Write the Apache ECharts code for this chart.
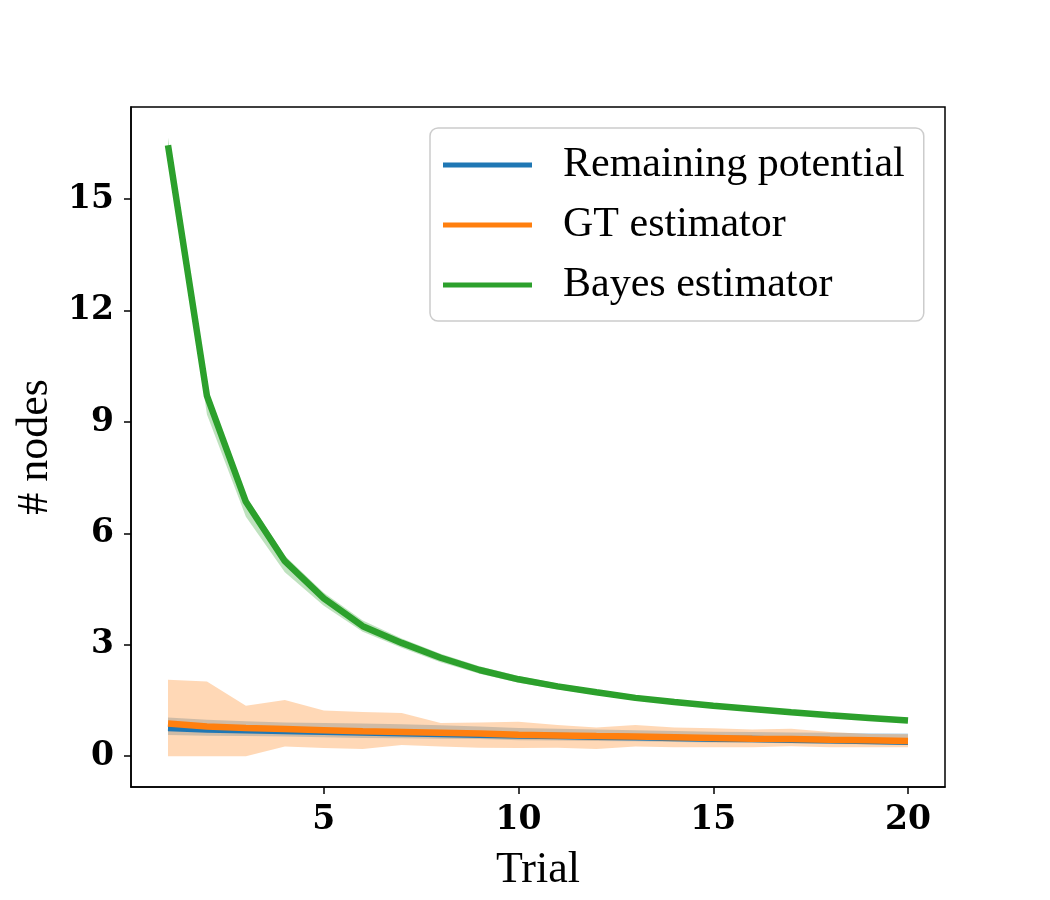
<!DOCTYPE html>
<html>
<head>
<meta charset="utf-8">
<script src="https://cdn.jsdelivr.net/npm/echarts@6/dist/echarts.min.js"></script>
<style>
  html, body { margin: 0; padding: 0; background: #fff; }
  #chart { width: 1050px; height: 900px; }
</style>
</head>
<body>
<div id="chart"></div>
<script>
// trial index
var trials = [1, 2, 3, 4, 5, 6, 7, 8, 9, 10, 11, 12, 13, 14, 15, 16, 17, 18, 19, 20];

// Remaining potential (mean + band)
var remMean  = [0.76, 0.72, 0.70, 0.68, 0.66, 0.64, 0.62, 0.60, 0.58, 0.56, 0.54, 0.52, 0.51, 0.49, 0.47, 0.46, 0.44, 0.43, 0.41, 0.39];
var remLower = [0.57, 0.55, 0.54, 0.53, 0.51, 0.49, 0.48, 0.47, 0.46, 0.43, 0.42, 0.41, 0.40, 0.38, 0.37, 0.36, 0.35, 0.33, 0.32, 0.31];
var remUpper = [1.04, 0.98, 0.94, 0.91, 0.89, 0.88, 0.86, 0.83, 0.80, 0.76, 0.74, 0.72, 0.70, 0.68, 0.66, 0.65, 0.64, 0.63, 0.62, 0.61];

// GT estimator
var gtMean  = [0.88, 0.80, 0.76, 0.73, 0.70, 0.67, 0.65, 0.63, 0.61, 0.58, 0.56, 0.54, 0.53, 0.51, 0.49, 0.47, 0.46, 0.44, 0.43, 0.41];
var gtLower = [0.00, 0.00, 0.00, 0.26, 0.22, 0.19, 0.30, 0.26, 0.23, 0.22, 0.23, 0.19, 0.26, 0.24, 0.24, 0.24, 0.27, 0.24, 0.24, 0.24];
var gtUpper = [2.06, 2.01, 1.36, 1.51, 1.23, 1.19, 1.16, 0.89, 0.91, 0.93, 0.84, 0.77, 0.84, 0.77, 0.75, 0.72, 0.74, 0.65, 0.60, 0.59];

// Bayes estimator
var bayesMean  = [16.45, 9.70, 6.85, 5.25, 4.25, 3.50, 3.05, 2.65, 2.32, 2.07, 1.88, 1.72, 1.57, 1.46, 1.36, 1.27, 1.18, 1.10, 1.03, 0.96];
var bayesLower = [16.30, 9.20, 6.45, 4.95, 4.05, 3.35, 2.92, 2.53, 2.22, 1.98, 1.80, 1.65, 1.51, 1.40, 1.30, 1.22, 1.13, 1.05, 0.98, 0.91];
var bayesUpper = [16.65, 9.85, 7.00, 5.40, 4.40, 3.65, 3.17, 2.76, 2.42, 2.16, 1.96, 1.79, 1.64, 1.52, 1.42, 1.32, 1.23, 1.15, 1.08, 1.01];

var xTicks = [5, 10, 15, 20];
var yTicks = [0, 3, 6, 9, 12, 15];

var names = ['Remaining potential', 'GT estimator', 'Bayes estimator'];
var colors = ['#1f77b4', '#ff7f0e', '#2ca02c'];

var chart = echarts.init(document.getElementById('chart'));

function pairs(ys) {
    var res = [];
    for (var i = 0; i < trials.length; i++) res.push([trials[i], ys[i]]);
    return res;
}

// shaded band between lower and upper, drawn as one polygon through the axes
function band(key, lo, up, color) {
    return {
        name: key + '_band', type: 'custom', silent: true, clip: true, z: 1,
        data: pairs(up),
        encode: { x: 0, y: 1 },
        renderItem: function (params, api) {
            if (params.dataIndex !== 0) return;
            var pts = [];
            for (var i = 0; i < trials.length; i++) pts.push(api.coord([trials[i], up[i]]));
            for (var j = trials.length - 1; j >= 0; j--) pts.push(api.coord([trials[j], lo[j]]));
            return {
                type: 'polygon',
                shape: { points: pts },
                style: { fill: color, opacity: 0.3 }
            };
        }
    };
}

function meanLine(name, ys, color) {
    return {
        name: name, type: 'line', data: pairs(ys), symbol: 'none',
        color: color,
        lineStyle: { color: color, width: 6.5 }, z: 3
    };
}

var series = [
    band('rem', remLower, remUpper, colors[0]),
    band('gt', gtLower, gtUpper, colors[1]),
    band('bayes', bayesLower, bayesUpper, colors[2]),
    meanLine(names[0], remMean, colors[0]),
    meanLine(names[1], gtMean, colors[1]),
    meanLine(names[2], bayesMean, colors[2])
];

var serif = '"Liberation Serif", "DejaVu Serif", serif';
var tickFont = '"DejaVu Serif", serif';

var option = {
    backgroundColor: '#fff',
    animation: false,
    grid: {
        left: 131, right: 105, top: 107, bottom: 113,
        show: true, borderColor: '#000', borderWidth: 1.5, backgroundColor: 'transparent'
    },
    legend: {
        data: names,
        orient: 'vertical',
        left: 430, top: 128,
        padding: [16, 19, 15, 13],
        itemGap: 18,
        itemWidth: 89, itemHeight: 5,
        icon: 'rect',
        backgroundColor: 'rgba(255,255,255,0.8)',
        borderColor: '#cccccc', borderWidth: 1.5, borderRadius: 8,
        textStyle: {
            fontFamily: serif, fontSize: 42, color: '#000',
            lineHeight: 40, padding: [0, 0, 0, 26]
        }
    },
    xAxis: {
        type: 'value',
        min: 0.05, max: 20.95,
        name: 'Trial', nameLocation: 'middle', nameGap: 61,
        nameTextStyle: { fontFamily: serif, fontSize: 44, color: '#000' },
        axisLine: { show: true, onZero: false, lineStyle: { color: '#000', width: 1.5 } },
        axisTick: { show: true, length: 7, lineStyle: { color: '#000', width: 1.5 }, customValues: xTicks },
        axisLabel: {
            customValues: xTicks, margin: 17,
            fontFamily: tickFont, fontWeight: 'bold', fontSize: 33, color: '#000'
        },
        splitLine: { show: false }
    },
    yAxis: {
        type: 'value',
        min: -0.83, max: 17.48,
        name: '# nodes', nameLocation: 'middle', nameGap: 68,
        nameTextStyle: { fontFamily: serif, fontSize: 44, color: '#000' },
        axisLine: { show: true, onZero: false, lineStyle: { color: '#000', width: 1.5 } },
        axisTick: { show: true, length: 7, lineStyle: { color: '#000', width: 1.5 }, customValues: yTicks },
        axisLabel: {
            customValues: yTicks, margin: 17,
            fontFamily: tickFont, fontWeight: 'bold', fontSize: 33, color: '#000'
        },
        splitLine: { show: false }
    },
    series: series
};

chart.setOption(option);
window.addEventListener('resize', function () {
    chart.resize();
});
</script>
</body>
</html>
